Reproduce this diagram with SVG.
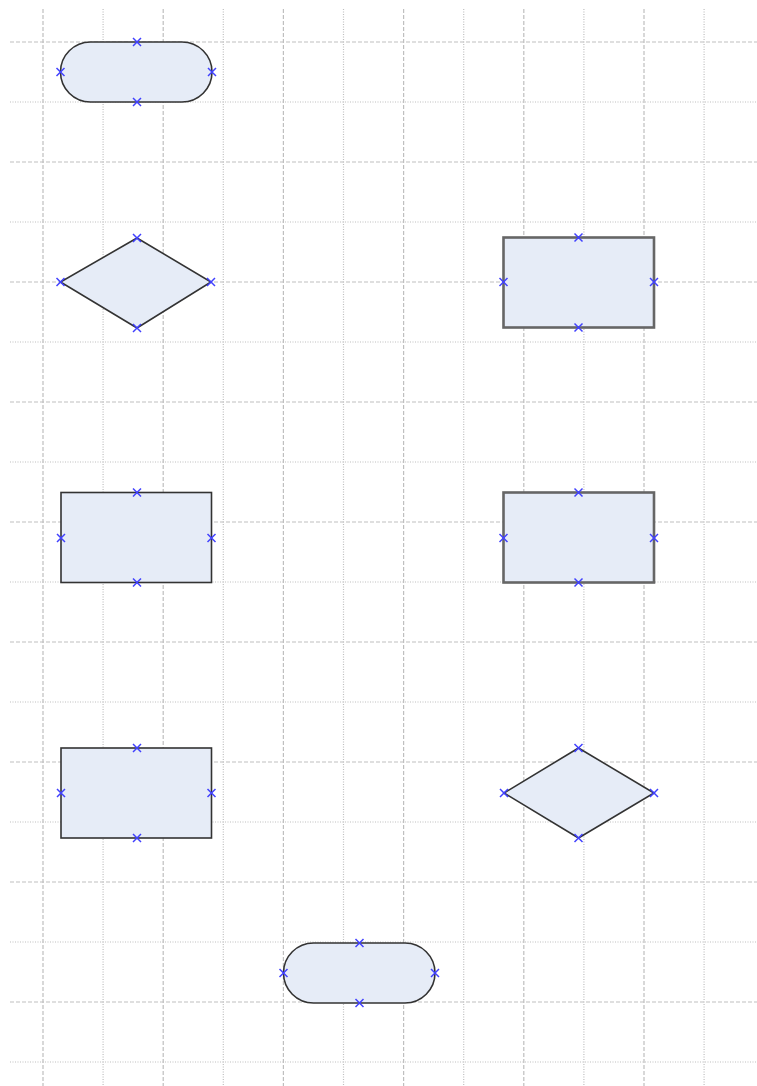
<svg xmlns="http://www.w3.org/2000/svg" width="757" height="1086" viewBox="0 0 757 1086">
<style>
.gd{stroke:#bfbfbf;stroke-width:1.2;stroke-dasharray:4,2;fill:none}
.gt{stroke:#bfbfbf;stroke-width:1.2;stroke-dasharray:1,1.5;fill:none}
.s{fill:#e6ecf7;stroke:#333;stroke-width:1.6}
.s2{fill:#e6ecf7;stroke:#666;stroke-width:2.6}
.x{stroke:#4040ff;stroke-width:1.5;fill:none}
</style>
<defs>
<path id="cx" d="M-4,-4L4,4M-4,4L4,-4" class="x"/>
</defs>
<rect width="757" height="1086" fill="#fff"/>
<g id="grid">
<path class="gd" d="M10,42H757M10,162H757M10,282H757M10,402H757M10,522H757M10,642H757M10,762H757M10,882H757M10,1002H757"/>
<path class="gt" d="M10,102H757M10,222H757M10,342H757M10,462H757M10,582H757M10,702H757M10,822H757M10,942H757M10,1062H757"/>
<path class="gd" d="M43,9V1086M163.2,9V1086M283.4,9V1086M403.6,9V1086M523.8,9V1086M644,9V1086"/>
<path class="gt" d="M103.1,9V1086M223.3,9V1086M343.5,9V1086M463.7,9V1086M583.9,9V1086M704.1,9V1086"/>
</g>
<g id="connectors"></g>
<g id="n1"><rect class="s" x="60.5" y="42" width="151.5" height="60" rx="30" ry="30"/>
<use href="#cx" x="137" y="42"/><use href="#cx" x="137" y="102"/><use href="#cx" x="60.5" y="72"/><use href="#cx" x="212" y="72"/></g>
<g id="n2"><polygon class="s" points="137,238 211,282 137,328 60.5,282"/>
<use href="#cx" x="137" y="238"/><use href="#cx" x="137" y="328"/><use href="#cx" x="60.5" y="282"/><use href="#cx" x="211" y="282"/></g>
<g id="n3"><rect class="s2" x="503.5" y="237.5" width="150.5" height="90"/>
<use href="#cx" x="578.5" y="237.5"/><use href="#cx" x="578.5" y="327.5"/><use href="#cx" x="503.5" y="282"/><use href="#cx" x="654" y="282"/></g>
<g id="n4"><rect class="s" x="61" y="492.5" width="150.5" height="90"/>
<use href="#cx" x="137" y="492.5"/><use href="#cx" x="137" y="582.5"/><use href="#cx" x="61" y="538"/><use href="#cx" x="211.5" y="538"/></g>
<g id="n5"><rect class="s2" x="503.5" y="492.5" width="150.5" height="90"/>
<use href="#cx" x="578.5" y="492.5"/><use href="#cx" x="578.5" y="582.5"/><use href="#cx" x="503.5" y="538"/><use href="#cx" x="654" y="538"/></g>
<g id="n6"><rect class="s" x="61" y="748" width="150.5" height="90"/>
<use href="#cx" x="137" y="748"/><use href="#cx" x="137" y="838"/><use href="#cx" x="61" y="793"/><use href="#cx" x="211.5" y="793"/></g>
<g id="n7"><polygon class="s" points="578.5,748 654,793 578.5,838 504,793"/>
<use href="#cx" x="578.5" y="748"/><use href="#cx" x="578.5" y="838"/><use href="#cx" x="504" y="793"/><use href="#cx" x="654" y="793"/></g>
<g id="n8"><rect class="s" x="283.5" y="943" width="151.5" height="60" rx="30" ry="30"/>
<use href="#cx" x="359.5" y="943"/><use href="#cx" x="359.5" y="1003"/><use href="#cx" x="283.5" y="973"/><use href="#cx" x="435" y="973"/></g>
</svg>
